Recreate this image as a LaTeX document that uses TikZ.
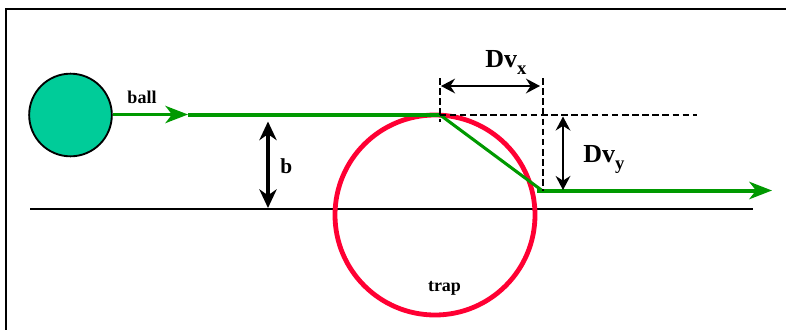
\documentclass[tikz,border=0pt]{standalone}
\usepackage{fontspec}
\setmainfont{Liberation Serif}
\usetikzlibrary{arrows.meta}

\definecolor{ballfill}{RGB}{0,204,153}
\definecolor{pathgreen}{RGB}{0,153,0}
\definecolor{trapred}{RGB}{255,0,51}

\tikzset{
  smalllbl/.style={font=\bfseries\fontsize{13.5}{16}\selectfont, inner sep=0pt},
  midlbl/.style={font=\bfseries\fontsize{16}{19}\selectfont, inner sep=0pt},
  deltalbl/.style={font=\bfseries\fontsize{19.5}{22}\selectfont, inner sep=0pt},
  track/.style={draw=pathgreen, line width=3pt},
  greentip/.style={-{Stealth[length=17pt, width=13pt, inset=5pt]}},
  dimarrow/.style={line width=2pt, {Stealth[length=10.5pt, width=11pt, inset=3.5pt]}-{Stealth[length=10.5pt, width=11pt, inset=3.5pt]}},
  bigdimarrow/.style={line width=2.3pt, {Stealth[length=14pt, width=13pt, inset=4.5pt]}-{Stealth[length=14pt, width=13pt, inset=4.5pt]}},
  guide/.style={line width=1.5pt, dash pattern=on 5pt off 2.6pt},
}

\begin{document}
\begin{tikzpicture}[x=0.75pt, y=-0.75pt]
  \useasboundingbox (0,0) rectangle (786,329);
  \clip (0,0) rectangle (786,329);

  % cornice
  \draw[line width=1.6pt] (6,340) -- (6,9) -- (800,9);

  % asse orizzontale
  \coordinate (axisL) at (30,208.5);
  \coordinate (axisR) at (753,208.5);
  \draw[line width=1.5pt] (axisL) -- (axisR);

  % pallina e trappola
  \node[circle, draw, line width=1.4pt, fill=ballfill, minimum size=62pt, inner sep=0pt] (ball) at (70.5,115) {};
  \node[circle, draw=trapred, line width=3.6pt, minimum size=150pt, inner sep=0pt] (trap) at (435,215) {};

  % punti della traiettoria
  \coordinate (tipin) at (188,114.5);
  \coordinate (hit) at (439.5,114.5);
  \coordinate (exit) at (542,190.5);
  \coordinate (tipout) at (772,190.5);

  % traiettoria verde
  \draw[draw=pathgreen, line width=2pt, greentip] (ball.east |- tipin) -- (tipin);
  \draw[track] (tipin) -- (hit);
  \draw[draw=pathgreen, line width=2.3pt] (hit) -- (exit);
  \draw[track, greentip] (exit -| trap.east) -- (tipout);

  % linee tratteggiate di riferimento
  \coordinate (guideA) at (439.5,78);
  \coordinate (guideB) at (439.5,122);
  \coordinate (guideC) at (542.5,78);
  \coordinate (guideD) at (697,114.5);
  \draw[guide] (guideA) -- (guideB);
  \draw[guide] (hit) -- (guideD);
  \draw[guide] (guideC) -- (exit -| guideC);

  % frecce delle quote
  \coordinate (dxL) at (441,86);
  \coordinate (dxR) at (540,86);
  \coordinate (dyT) at (563,116.5);
  \coordinate (dyB) at (563,190);
  \coordinate (bT) at (268,121.5);
  \coordinate (bB) at (268,208);
  \draw[dimarrow] (dxL) -- (dxR);
  \draw[dimarrow] (dyT) -- (dyB);
  \draw[bigdimarrow] (bT) -- (bB);

  % etichette
  \node[smalllbl, anchor=base] (balltxt) at (142,103) {ball};
  \node[smalllbl, anchor=base] (traptxt) at (444.5,291) {trap};
  \node[midlbl, anchor=base west] (btxt) at (280,173) {b};
  \node[deltalbl, anchor=base west] (dxtxt) at (485,67) {Dv\raisebox{-5.5pt}{\fontsize{14}{16}\selectfont x}};
  \node[deltalbl, anchor=base west] (dytxt) at (583,162) {Dv\raisebox{-5.5pt}{\fontsize{14}{16}\selectfont y}};
\end{tikzpicture}
\end{document}
